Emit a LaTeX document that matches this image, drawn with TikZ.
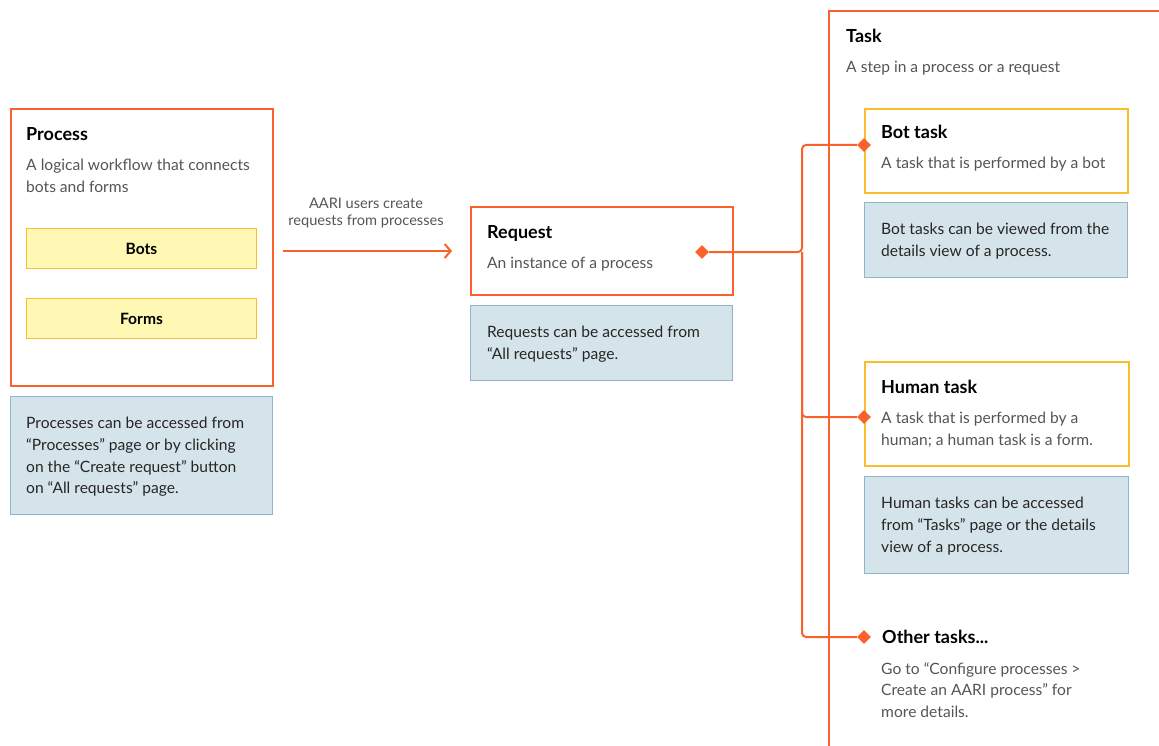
\documentclass[tikz,border=0pt]{standalone}
\usepackage{fontspec}
\setmainfont{Lato}
\definecolor{aariOrange}{HTML}{F9622A}
\definecolor{taskGold}{HTML}{F9BD2F}
\definecolor{partYellow}{HTML}{FFF8B5}
\definecolor{noteBlue}{HTML}{D5E4EA}
\definecolor{noteBorder}{HTML}{8FB5CC}
\definecolor{descGray}{HTML}{555555}
\newcommand{\aariTitle}{\fontsize{18}{22}\selectfont\bfseries}
\newcommand{\aariBody}{\fontsize{15.6}{21.7}\selectfont}
\usetikzlibrary{shapes.geometric, arrows.meta, positioning}

\begin{document}
\begin{tikzpicture}[
        x=1pt, y=-1pt,
        frame/.style={rectangle, draw=aariOrange, line width=2pt, fill=white, anchor=north west, inner sep=0pt},
        taskbox/.style={rectangle, draw=taskGold, line width=2pt, fill=white, anchor=north west, inner sep=0pt},
        part/.style={rectangle, draw=taskGold, line width=1pt, fill=partYellow, anchor=north west,
                     minimum width=230pt, minimum height=40pt, font=\aariBody\bfseries},
        note/.style={rectangle, draw=noteBorder, line width=1pt, fill=noteBlue, anchor=north west, inner sep=0pt},
        title/.style={anchor=base west, inner sep=0pt, font=\aariTitle},
        desc/.style={anchor=north west, inner sep=0pt, align=left, font=\aariBody, text=descGray},
        notetext/.style={anchor=north west, inner sep=0pt, align=left, font=\aariBody, text=black!85},
        tip/.style={diamond, fill=aariOrange, inner sep=0pt, minimum size=14pt},
        link/.style={draw=aariOrange, line width=2pt, rounded corners=4pt},
        arrow/.style={-{Straight Barb[length=6pt, width=14pt]}, draw=aariOrange, line width=2pt}
      ]
        \useasboundingbox (0,0) rectangle (1159,746);

        % process
        \node[frame, minimum width=262pt, minimum height=277pt] (process) at (10,108) {};
        \node[title] (processTitle) at (26,141) {Process};
        \node[desc] (processDesc) at (26,159) {A logical workflow that connects\\bots and forms};
        \node[part] (bots) at (26,228) {Bots};
        \node[part] (forms) at (26,298) {Forms};
        \node[note, minimum width=262pt, minimum height=118pt] (processNote) at (10,396) {};
        \node[notetext] (processNoteText) at (26,417) {Processes can be accessed from\\\textquotedblleft Processes\textquotedblright{} page or by clicking\\on the \textquotedblleft Create request\textquotedblright{} button\\on \textquotedblleft All requests\textquotedblright{} page.};

        % request
        \node[frame, minimum width=262pt, minimum height=88pt] (request) at (470,206) {};
        \node[title] (requestTitle) at (487,238) {Request};
        \node[desc, anchor=base west] (requestDesc) at (487,268) {An instance of a process};
        \node[tip] (requestTip) at (702,252) {};
        \node[note, minimum width=262pt, minimum height=75pt] (requestNote) at (470,305) {};
        \node[notetext] (requestNoteText) at (487,326) {Requests can be accessed from\\\textquotedblleft All requests\textquotedblright{} page.};

        \coordinate (arrowStart) at (283,251);
        \coordinate (arrowEnd) at (452,251);
        \draw[arrow] (arrowStart) -- (arrowEnd);
        \node[desc, anchor=north, align=center, font=\fontsize{14.6}{17}\selectfont] (arrowLabel) at (366,198) {AARI users create\\requests from processes};

        % task frame
        \draw[aariOrange, line width=2pt] (829,746) -- (829,11) -- (1159,11);
        \node[title] (taskTitle) at (846,43) {Task};
        \node[desc, anchor=base west] (taskDesc) at (846,73) {A step in a process or a request};

        \node[taskbox, minimum width=263pt, minimum height=84pt] (botTask) at (864,108) {};
        \node[title] (botTitle) at (881,139) {Bot task};
        \node[desc, anchor=base west] (botDesc) at (881,169) {A task that is performed by a bot};
        \node[note, minimum width=263pt, minimum height=75pt] (botNote) at (864,202) {};
        \node[notetext] (botNoteText) at (881,223) {Bot tasks can be viewed from the\\details view of a process.};

        \node[taskbox, minimum width=264pt, minimum height=104pt] (humanTask) at (864,361) {};
        \node[title] (humanTitle) at (881,393) {Human task};
        \node[desc] (humanDesc) at (881,412) {A task that is performed by a\\human; a human task is a form.};
        \node[note, minimum width=264pt, minimum height=97pt] (humanNote) at (864,476) {};
        \node[notetext] (humanNoteText) at (881,497) {Human tasks can be accessed\\from \textquotedblleft Tasks\textquotedblright{} page or the details\\view of a process.};

        \node[title] (otherTitle) at (882,643) {Other tasks...};
        \node[desc] (otherDesc) at (881,662) {Go to \textquotedblleft Configure processes >\\Create an AARI process\textquotedblright{} for\\more details.};

        % connectors
        \node[tip] (botTip) at (864,145) {};
        \node[tip] (humanTip) at (864,417) {};
        \node[tip] (otherTip) at (864,637) {};
        \coordinate (bus) at (802,252);
        \draw[link] (requestTip) -- (bus) |- (botTip);
        \draw[link] (bus) |- (humanTip);
        \draw[link] (bus) |- (otherTip);
      \end{tikzpicture}
\end{document}
